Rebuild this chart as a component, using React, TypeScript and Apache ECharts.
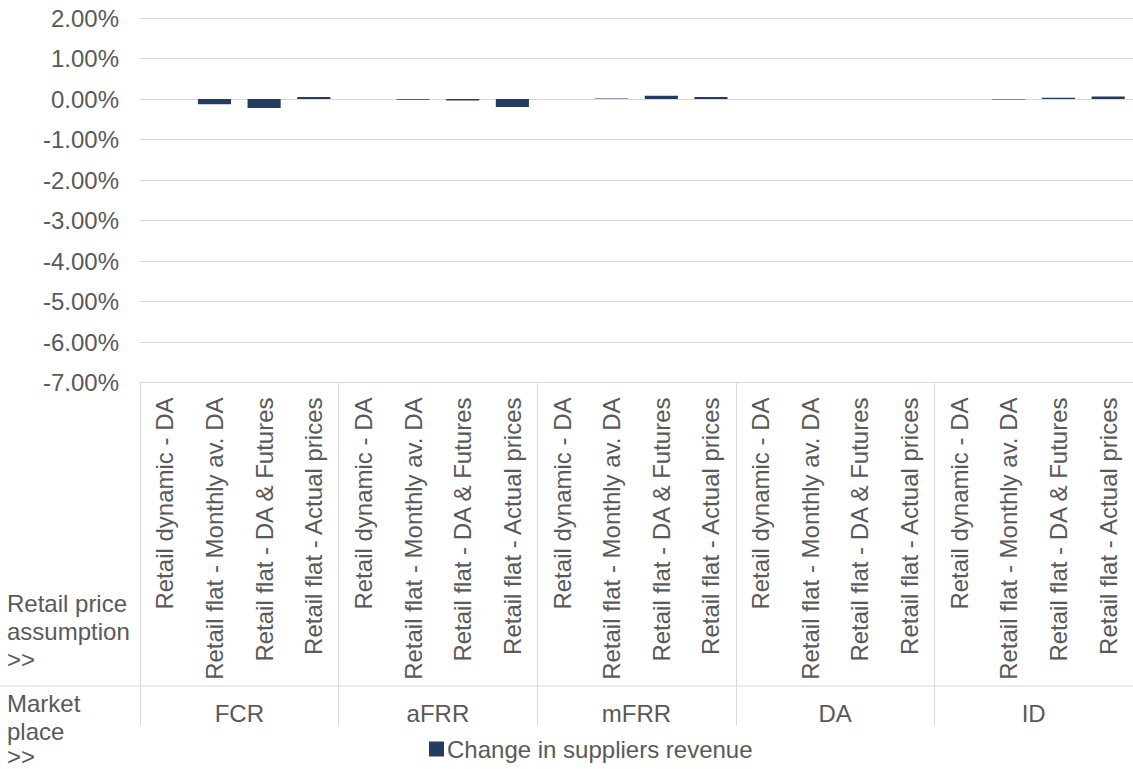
import React, { useEffect, useRef } from "react";
import * as echarts from "echarts";

// Retail price assumptions, repeated for every market place
const priceAssumptions = [
  "Retail dynamic - DA",
  "Retail flat - Monthly av. DA",
  "Retail flat - DA & Futures",
  "Retail flat - Actual prices",
];
const marketPlaces = ["FCR", "aFRR", "mFRR", "DA", "ID"];

// One category per (market place, price assumption) pair
const categories = marketPlaces.flatMap(() => priceAssumptions);

// Change in suppliers revenue, in percent
const revenueChange = [
  0, -0.13, -0.22, 0.05, // FCR
  0, -0.02, -0.04, -0.2, // aFRR
  0, 0.01, 0.08, 0.05, // mFRR
  0, 0, 0, 0, // DA
  0, -0.01, 0.03, 0.06, // ID
];

const yMin = -7;
const yMax = 2;
const yStep = 1;

const seriesName = "Change in suppliers revenue";

const FONT = "'Liberation Sans', Arial, Helvetica, sans-serif";
const TEXT = "#595959";
const GRID = "#d9d9d9";
const BAR = "#253b62";

export default function App() {
  const ref = useRef<HTMLDivElement>(null);

  useEffect(() => {
    if (!ref.current) return;
    const chart = echarts.init(ref.current, undefined, { renderer: "svg" });

    const gridLeft = 140;
    const gridTop = 18;
    const gridWidth = 996.6;
    const gridHeight = 364.5;

    const labelFont = `24px ${FONT}`;

    chart.setOption({
      animation: false,
      textStyle: { fontFamily: FONT },
      grid: {
        left: gridLeft,
        top: gridTop,
        width: gridWidth,
        height: gridHeight,
        containLabel: false,
      },
      legend: {
        data: [seriesName],
        left: 429,
        top: 737,
        padding: 0,
        icon: "rect",
        itemWidth: 15,
        itemHeight: 15,
        itemGap: 0,
        textStyle: { fontSize: 24, color: TEXT, fontFamily: FONT, padding: [0, 0, 0, -2] },
      },
      xAxis: [
        {
          type: "category",
          data: categories,
          position: "bottom",
          axisLine: { show: false },
          axisTick: { show: false },
          axisLabel: {
            interval: 0,
            rotate: 90,
            margin: 15,
            fontSize: 24,
            color: TEXT,
            fontFamily: FONT,
          },
        },
        {
          type: "category",
          data: marketPlaces,
          position: "bottom",
          axisLine: { show: false },
          axisTick: {
            show: true,
            length: 343,
            lineStyle: { color: GRID, width: 1 },
          },
          axisLabel: {
            interval: 0,
            margin: 319,
            fontSize: 24,
            color: TEXT,
            fontFamily: FONT,
          },
        },
      ],
      yAxis: {
        type: "value",
        min: yMin,
        max: yMax,
        interval: yStep,
        axisLine: { show: false },
        axisTick: { show: false },
        splitLine: { lineStyle: { color: GRID, width: 1 } },
        axisLabel: {
          margin: 21,
          fontSize: 24,
          color: TEXT,
          fontFamily: FONT,
          formatter: (v: number) => v.toFixed(2) + "%",
        },
      },
      series: [
        {
          name: seriesName,
          type: "bar",
          xAxisIndex: 0,
          data: revenueChange,
          barCategoryGap: "33.3%",
          itemStyle: { color: BAR },
        },
      ],
      graphic: [
        {
          type: "line",
          shape: { x1: 0, y1: 686, x2: 1133, y2: 686 },
          style: { stroke: GRID, lineWidth: 1 },
        },
        {
          type: "text",
          left: 7,
          top: 589,
          style: {
            text: "Retail price\nassumption\n>>",
            font: labelFont,
            lineHeight: 28,
            fill: TEXT,
          },
        },
        {
          type: "text",
          left: 7,
          top: 689,
          style: {
            text: "Market\nplace",
            font: labelFont,
            lineHeight: 28,
            fill: TEXT,
          },
        },
        {
          type: "text",
          left: 7,
          top: 744,
          style: {
            text: ">>",
            font: labelFont,
            lineHeight: 24,
            fill: TEXT,
          },
        },
      ],
    });

    return () => chart.dispose();
  }, []);

  return (
    <div
      ref={ref}
      style={{ position: "absolute", left: 0, top: 0, width: 1133, height: 769 }}
    />
  );
}
